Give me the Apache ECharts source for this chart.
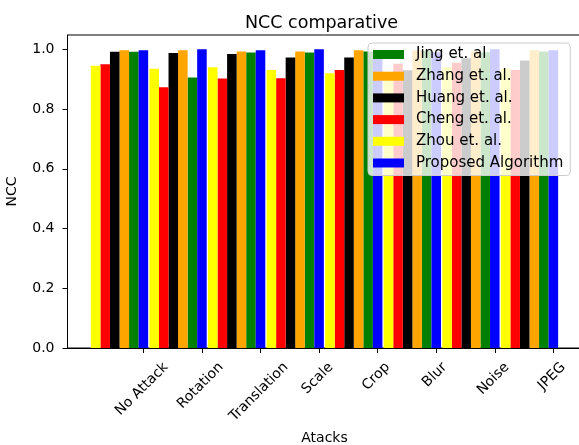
<!DOCTYPE html>
<html>
<head>
<meta charset="utf-8">
<script src="https://cdn.jsdelivr.net/npm/echarts@6/dist/echarts.min.js"></script>
<style>
  html, body { margin: 0; padding: 0; background: #fff; }
  #chart { width: 579px; height: 445px; }
</style>
</head>
<body>
<div id="chart"></div>
<script>
// Attack categories on the x axis
const categories = ['No Attack', 'Rotation', 'Translation', 'Scale', 'Crop', 'Blur', 'Noise', 'JPEG'];

// NCC values per method, one entry per attack
const jing     = [0.992, 0.906, 0.989, 0.989, 0.993, 0.995, 0.990, 0.993];
const zhang    = [0.997, 0.997, 0.993, 0.993, 0.997, 0.997, 0.994, 0.997];
const huang    = [0.992, 0.988, 0.984, 0.973, 0.973, 0.930, 0.970, 0.963];
const cheng    = [0.950, 0.873, 0.902, 0.903, 0.931, 0.952, 0.955, 0.931];
const zhou     = [0.945, 0.935, 0.940, 0.931, 0.920, 0.915, 0.941, 0.935];
const proposed = [0.997, 1.000, 0.997, 1.000, 0.998, 0.990, 1.000, 0.997];

// y-axis tick values
const yTicks = [0.0, 0.2, 0.4, 0.6, 0.8, 1.0];

// Series in legend order, with their slot inside each group (0 = leftmost)
const seriesDefs = [
  { name: 'Jing et. al',        data: jing,     color: '#008000', slot: 4 },
  { name: 'Zhang et. al.',      data: zhang,    color: '#ffa500', slot: 3 },
  { name: 'Huang et. al.',      data: huang,    color: '#000000', slot: 2 },
  { name: 'Cheng et. al.',      data: cheng,    color: '#ff0000', slot: 1 },
  { name: 'Zhou et. al.',       data: zhou,     color: '#ffff00', slot: 0 },
  { name: 'Proposed Algorithm', data: proposed, color: '#0000ff', slot: 5 }
];

// Geometry: bar width in category units, each group ends with its tick on the last bar
const BW = 0.163;
const dataLeft = -5.5 * BW;
const dataRight = categories.length - 1 + 0.5 * BW;
const xPad = 0.05 * (dataRight - dataLeft);
const xMin = dataLeft - xPad;
const xMax = dataRight + xPad;
const gridLeft = 67.5, gridTop = 35, gridWidth = 514, gridHeight = 313;
const pxPerUnit = gridWidth / (xMax - xMin);
const barPx = BW * pxPerUnit;

const maxVal = Math.max(...jing, ...zhang, ...huang, ...cheng, ...zhou, ...proposed);
const yMax = maxVal * 1.048;

// Rotated tick labels are centred on their tick: shift each label's anchor
// (its right end) by half the horizontal extent of the rotated text.
const FONT = '"DejaVu Sans", sans-serif';
const measure = document.createElement('canvas').getContext('2d');
measure.font = '14px ' + FONT;
const labelPos = categories.map((c, i) =>
  i + (0.3536 * measure.measureText(c).width - 1.5) / pxPerUnit);
function labelFor(v) {
  let best = 0, bd = Infinity;
  labelPos.forEach((p, j) => { const d = Math.abs(p - v); if (d < bd) { bd = d; best = j; } });
  return categories[best];
}

const chart = echarts.init(document.getElementById('chart'), null, { renderer: 'canvas' });

const option = {
  animation: false,
  backgroundColor: '#ffffff',
  title: {
    text: 'NCC comparative',
    left: 316.5,
    textAlign: 'center',
    top: 9,
    textStyle: { fontFamily: FONT, fontSize: 17.5, fontWeight: 'normal', color: '#000' }
  },
  grid: {
    left: gridLeft, top: gridTop, width: gridWidth, height: gridHeight,
    outerBoundsMode: 'none',
    containLabel: false,
    show: true, borderColor: '#000', borderWidth: 1, backgroundColor: 'transparent'
  },
  legend: {
    orient: 'vertical',
    left: 368, top: 43,
    padding: [4, 7, 5, 5],
    itemWidth: 31, itemHeight: 9, itemGap: 6.7,
    icon: 'rect',
    backgroundColor: 'rgba(255,255,255,0.8)',
    borderColor: '#cccccc', borderWidth: 1, borderRadius: 4,
    data: seriesDefs.map(s => s.name),
    textStyle: { fontFamily: FONT, fontSize: 15, color: '#000', padding: [0, 0, 0, 7] },
    itemStyle: { borderWidth: 0 }
  },
  xAxis: {
    type: 'value',
    min: xMin, max: xMax,
    name: 'Atacks',
    nameLocation: 'middle',
    nameGap: 80,
    nameTextStyle: { fontFamily: FONT, fontSize: 14, color: '#000' },
    axisLine: { show: true, onZero: false, lineStyle: { color: '#000', width: 1 } },
    axisTick: { show: true, length: 5, lineStyle: { color: '#000' }, customValues: categories.map((c, i) => i) },
    axisLabel: {
      customValues: labelPos,
      rotate: 45,
      margin: 17,
      formatter: labelFor,
      fontFamily: FONT, fontSize: 14, color: '#000'
    },
    splitLine: { show: false }
  },
  yAxis: {
    type: 'value',
    min: 0, max: yMax,
    name: 'NCC',
    nameLocation: 'middle',
    nameGap: 48,
    nameRotate: 90,
    nameTextStyle: { fontFamily: FONT, fontSize: 14, color: '#000' },
    axisLine: { show: true, onZero: false, lineStyle: { color: '#000', width: 1 } },
    axisTick: { show: true, length: 5, lineStyle: { color: '#000' }, customValues: yTicks },
    axisLabel: {
      customValues: yTicks,
      margin: 13,
      formatter: v => v.toFixed(1),
      fontFamily: FONT, fontSize: 14, color: '#000'
    },
    splitLine: { show: false }
  },
  series: seriesDefs.map(s => ({
    name: s.name,
    type: 'bar',
    barWidth: barPx,
    barGap: '-100%',
    itemStyle: { color: s.color },
    data: s.data.map((v, i) => [i + (s.slot - 5) * BW, v])
  }))
};

chart.setOption(option);
</script>
</body>
</html>
